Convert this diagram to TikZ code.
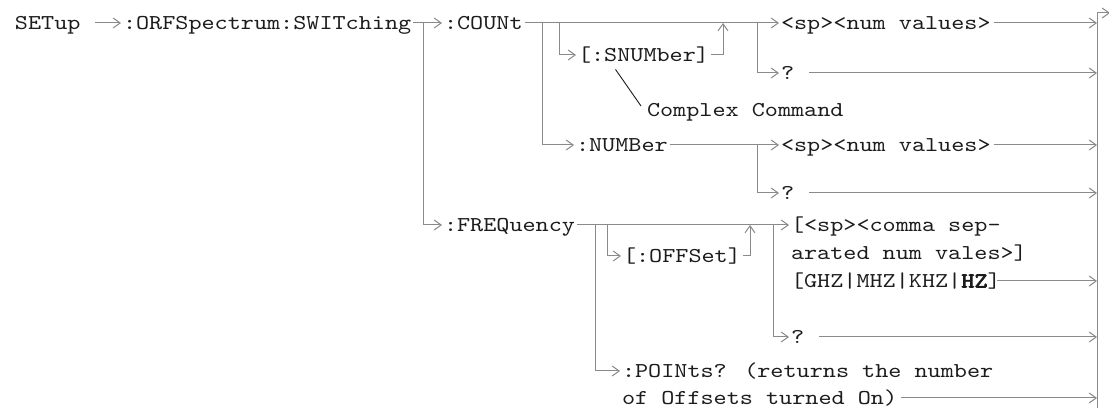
\documentclass[tikz,border=0pt]{standalone}
\usepackage{fontspec}
\usepackage{tikz}
\usetikzlibrary{arrows.meta,positioning,calc}
\newfontfamily\cmdfont[FakeStretch=1.18,BoldFont=lmmono10-regular.otf,BoldFeatures={FakeBold=3}]{lmmono10-regular.otf}
\definecolor{Wire}{HTML}{8A8A8A}
\definecolor{Type}{HTML}{1C1C1C}
\tikzset{
 cmd/.style={anchor=west,inner xsep=2pt,inner ysep=0pt,outer sep=0pt,
   text height=12.9pt,text depth=0pt,text=Type,font=\cmdfont\fontsize{21.15}{25}\selectfont},
 wire/.style={draw=Wire,line width=1pt},
 arr/.style={wire,-{Straight Barb[length=7pt,width=10pt]}},
 note/.style={draw=Type,line width=0.9pt}
}
\begin{document}
\begin{tikzpicture}[x=1pt,y=-1pt]
\useasboundingbox[fill=white] (0,0) rectangle (1109,411);
% command words
\node[cmd] (setup) at (13,23) {SETup};
\node[cmd] (orf) at (121,23) {:ORFSpectrum:SWITching};
\node[cmd] (count) at (442,23) {:COUNt};
\node[cmd] (snum) at (576,55) {[:SNUMber]};
\node[cmd] (spA) at (779,23) {<sp><num values>};
\node[cmd] (qA) at (779,73) {?};
\node[cmd] (complex) at (645,110) {Complex Command};
\node[cmd] (number) at (574,145) {:NUMBer};
\node[cmd] (spB) at (779,145) {<sp><num values>};
\node[cmd] (qB) at (779,193) {?};
\node[cmd] (freq) at (442,225) {:FREQuency};
\node[cmd] (offset) at (621,256) {[:OFFSet]};
\node[cmd] (comma1) at (789,225) {[<sp><comma sep-};
\node[cmd,below=28pt of comma1.west,anchor=west] (comma2) {arated num vales>]};
\node[cmd,below=28pt of comma2.west,anchor=west] (comma3) {[GHZ|MHZ|KHZ|\textbf{HZ}]};
\node[cmd] (qC) at (789,337) {?};
\node[cmd] (pts1) at (620,371) {:POINts? (returns the number};
\node[cmd,below=27pt of pts1.west,anchor=west] (pts2) {of Offsets turned On)};
% junctions and end bar
\coordinate (j1) at (423,23);
\coordinate (j2) at (542,23);
\coordinate (j3) at (559,23);
\coordinate (j4) at (723,23);
\coordinate (j5) at (757,23);
\coordinate (j6) at (757,145);
\coordinate (j7) at (595,225);
\coordinate (j8) at (607,225);
\coordinate (j9) at (750,225);
\coordinate (j10) at (773,225);
\coordinate (bartop) at (1097,13);
\coordinate (barbot) at (1097,408);
\coordinate (exit) at (1110,13);
% main paths
\draw[arr] ([xshift=12pt]setup.east) -- (orf.west);
\draw[arr] (orf.east) -- (count.west);
\draw[arr] (count.east) -- (spA.west);
\draw[arr] (number.east) -- (spB.west);
\draw[arr] (freq.east) -- (comma1.west);
\foreach \j/\b in {j1/freq,j2/number,j3/snum,j5/qA,j6/qB,j7/pts1,j8/offset,j10/qC}
  \draw[arr] (\j) |- (\b.west);
\draw[arr] (snum.east) -| (j4);
\draw[arr] (offset.east) -| (j9);
\draw[note] ($(snum.south)+(-28,8)$) -- ($(complex.west)+(-4,-4)$);
% into the end bar
\foreach \a/\g in {spA/1,qA/13,spB/1,qB/13,comma3/-6,qC/13,pts2/2}
  \draw[arr] ([xshift=\g pt]\a.east) -- (\a.east -| bartop);
\draw[wire] (bartop) -- (barbot);
\draw[arr] (bartop) -- (exit);
\end{tikzpicture}
\end{document}
